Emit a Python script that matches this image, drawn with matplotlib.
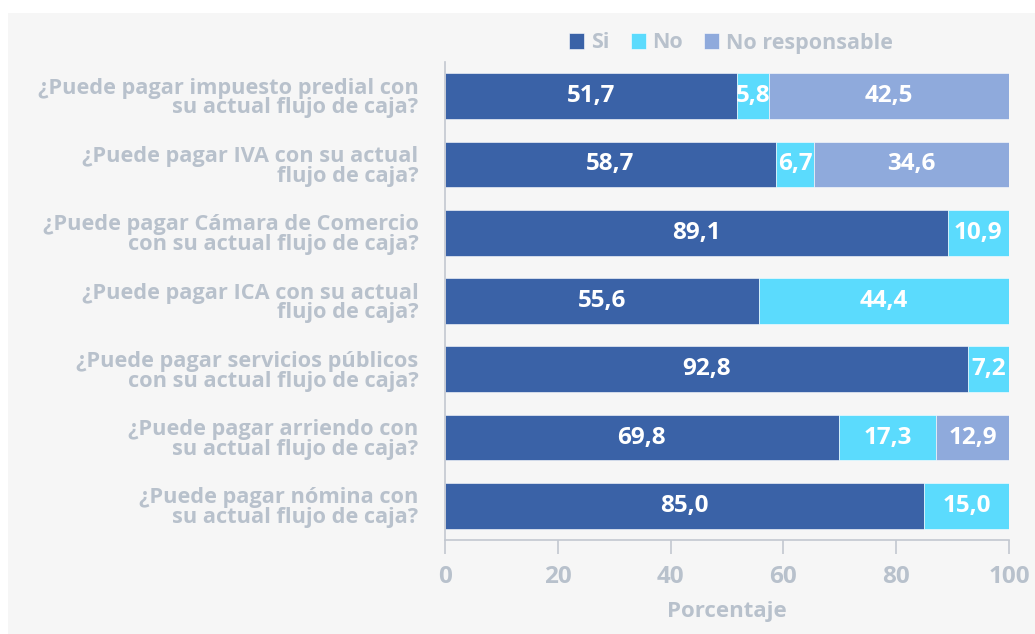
import matplotlib.pyplot as plt
import numpy as np
from matplotlib.patches import Rectangle

categories = [
    '¿Puede pagar impuesto predial con\nsu actual flujo de caja?',
    '¿Puede pagar IVA con su actual\nflujo de caja?',
    '¿Puede pagar Cámara de Comercio\ncon su actual flujo de caja?',
    '¿Puede pagar ICA con su actual\nflujo de caja?',
    '¿Puede pagar servicios públicos\ncon su actual flujo de caja?',
    '¿Puede pagar arriendo con\nsu actual flujo de caja?',
    '¿Puede pagar nómina con\nsu actual flujo de caja?',
]
si = [51.7, 58.7, 89.1, 55.6, 92.8, 69.8, 85.0]
no = [5.8, 6.7, 10.9, 44.4, 7.2, 17.3, 15.0]
no_resp = [42.5, 34.6, 0, 0, 0, 12.9, 0]

series = [('Si', si, '#3a62a7'), ('No', no, '#5bdbfd'), ('No responsable', no_resp, '#8faadc')]
TXT = '#b8c1cc'

plt.rcParams['font.family'] = ['Open Sans', 'DejaVu Sans']
plt.rcParams['font.weight'] = 'bold'

fig = plt.figure(figsize=(10.35, 6.34), dpi=100)
fig.patch.set_facecolor('white')
fig.patches.append(Rectangle((8 / 1035, 0), 1, 1 - 13 / 634, transform=fig.transFigure,
                             facecolor='#f6f6f6', edgecolor='none', zorder=-10))

ax = fig.add_axes([445 / 1035, 1 - 540 / 634, (1009 - 445) / 1035, (540 - 62) / 634])
ax.set_facecolor('none')

y = np.arange(len(categories))
left = np.zeros(len(categories))
for name, vals, col in series:
    vals = np.array(vals)
    ax.barh(y, vals, left=left, height=0.67, color=col, edgecolor='white', linewidth=0.4, label=name)
    for yi, (l, v) in enumerate(zip(left, vals)):
        if v > 0:
            ax.text(l + v / 2, yi, f'{v:.1f}'.replace('.', ','), ha='center', va='center',
                    color='white', fontsize=17.5, fontweight='bold')
    left += vals

ax.set_ylim(6.5, -0.5)
ax.set_xlim(0, 100)
ax.set_yticks(y)
ax.set_yticklabels(categories, fontsize=15.7, color=TXT, linespacing=0.92, fontweight='bold')
ax.tick_params(axis='y', length=0, pad=19)
ax.set_xticks([0, 20, 40, 60, 80, 100])
ax.tick_params(axis='x', colors='#c3c8d0', labelcolor=TXT, labelsize=17.5, length=10, width=1.2, pad=8)
for t in ax.get_xticklabels():
    t.set_fontweight('bold')
for s in ['top', 'right']:
    ax.spines[s].set_visible(False)
for s in ['left', 'bottom']:
    ax.spines[s].set_color('#c3c8d0')
    ax.spines[s].set_linewidth(1.2)
ax.set_xlabel('Porcentaje', fontsize=16, color=TXT, labelpad=9, fontweight='bold')

leg = fig.legend(loc='center', bbox_to_anchor=(731 / 1035, 1 - 43 / 634), ncol=3, frameon=False,
                 prop={'size': 15.5, 'weight': 'bold'}, handlelength=0.7, handleheight=0.7,
                 handletextpad=0.3, columnspacing=1.0)
for t in leg.get_texts():
    t.set_color(TXT)

fig.savefig('out.png', dpi=100, facecolor=fig.get_facecolor())
